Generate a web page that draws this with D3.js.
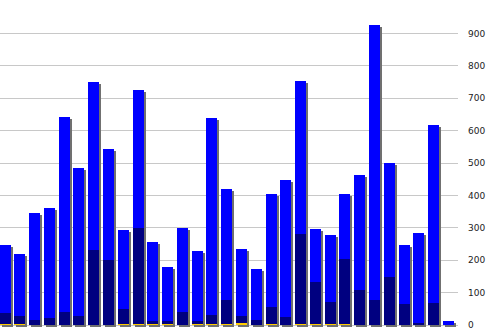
<!DOCTYPE html>
<html>
<head>
<meta charset="utf-8">
<script src="https://cdn.jsdelivr.net/npm/d3@7"></script>
<style>
  body { margin: 0; background: #fff; }
  svg { display: block; }
</style>
</head>
<body>
<script>
var width = 498,
    height = 330;

// one entry per bar, left to right
var totals = [247, 219, 346, 361, 642, 485, 750, 543, 293, 725, 256, 179, 299, 228, 639, 420,
              235, 173, 404, 448, 753, 296, 278, 404, 463, 926, 500, 247, 284, 617, 12];
var dark   = [37, 28, 15, 22, 40, 28, 231, 201, 49, 299, 12, 12, 40, 12, 31, 77,
              28, 15, 56, 25, 281, 133, 71, 204, 108, 77, 148, 65, 6, 68, 0];
var small  = [3, 3, 0, 0, 0, 0, 0, 0, 3, 3, 3, 3, 0, 3, 3, 3,
              6, 0, 3, 0, 3, 3, 3, 3, 0, 0, 0, 0, 0, 0, 0];
var ticks  = [0, 100, 200, 300, 400, 500, 600, 700, 800, 900];

var svg = d3.select('body').append('svg')
    .attr('width', width)
    .attr('height', height);

var x = d3.scaleBand()
    .domain(d3.range(totals.length))
    .range([-0.5, 457.7]);

var y = d3.scaleLinear()
    .domain([0, 900])
    .range([325, 33.5]);

var barW = 11;

// grid lines
svg.append('g')
    .selectAll('line')
    .data(ticks)
    .enter().append('line')
    .attr('x1', 0)
    .attr('x2', 458)
    .attr('y1', function (d) { return Math.floor(y(d)) + 0.5; })
    .attr('y2', function (d) { return Math.floor(y(d)) + 0.5; })
    .attr('stroke', '#c8c8c8')
    .attr('stroke-width', 1);

// right axis labels
svg.append('g')
    .selectAll('text')
    .data(ticks)
    .enter().append('text')
    .attr('x', 468)
    .attr('y', function (d) { return y(d); })
    .attr('dy', '0.35em')
    .attr('font-family', 'DejaVu Sans, Verdana, sans-serif')
    .attr('font-size', '9px')
    .attr('fill', '#222')
    .text(function (d) { return d; });

// keep the index of each bar before dropping the zero ones
function bars(values, color, offset) {
    svg.append('g')
        .attr('shape-rendering', 'crispEdges')
        .selectAll('rect')
        .data(values.map(function (v, i) { return {v: v, i: i}; }).filter(function (d) { return d.v > 0; }))
        .enter().append('rect')
        .attr('x', function (d) { return Math.round(x(d.i)) + offset; })
        .attr('y', function (d) { return Math.round(y(d.v)) + offset; })
        .attr('width', barW)
        .attr('height', function (d) { return 325 - Math.round(y(d.v)); })
        .attr('fill', color);
}

bars(totals, '#707070', 2);   // drop shadow
bars(totals, '#0000ff', 0);
bars(dark, '#000080', 0);
bars(small, '#ffcc00', 0);
</script>
</body>
</html>
